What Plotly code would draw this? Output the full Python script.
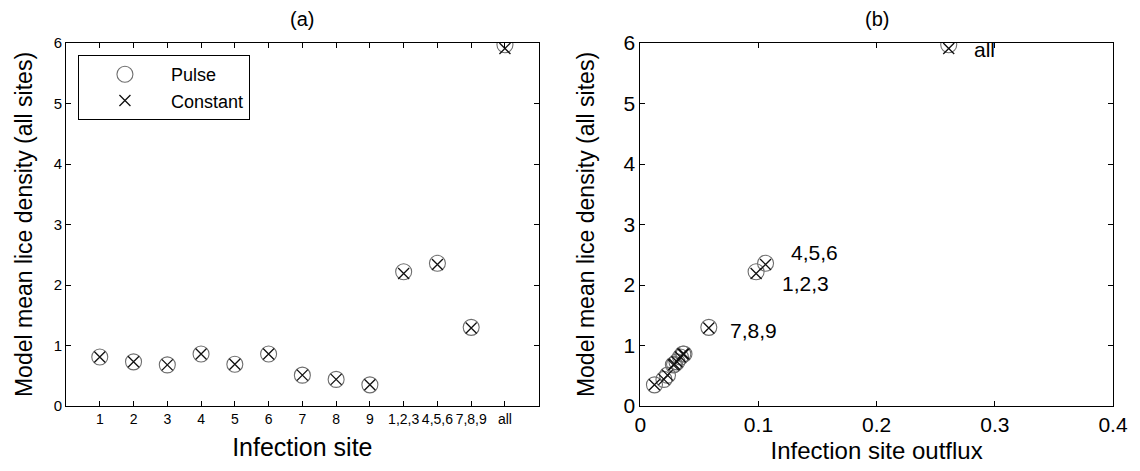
import plotly.graph_objects as go
from plotly.subplots import make_subplots

# ---- data ----
sites = ['1', '2', '3', '4', '5', '6', '7', '8', '9', '1,2,3', '4,5,6', '7,8,9', 'all']
pulse = [0.81, 0.73, 0.68, 0.86, 0.69, 0.86, 0.51, 0.44, 0.35, 2.22, 2.36, 1.30, 5.97]
constant = [0.81, 0.73, 0.68, 0.86, 0.69, 0.86, 0.51, 0.44, 0.35, 2.19, 2.34, 1.29, 5.91]
outflux = [0.034, 0.031, 0.028, 0.036, 0.029, 0.037, 0.023, 0.020, 0.012, 0.098, 0.106, 0.058, 0.261]
labelled_sites = ['4,5,6', '1,2,3', '7,8,9', 'all']
label_pos = {'4,5,6': (0.126, 2.53), '1,2,3': (0.118, 2.03), '7,8,9': (0.074, 1.25), 'all': (0.281, 5.89)}

xpos = list(range(1, len(sites) + 1))
FONT = "Liberation Sans, Arial, sans-serif"

fig = make_subplots(rows=1, cols=2, horizontal_spacing=0.097)

circle = dict(symbol='circle-open', size=16, color='#6e6e6e', line=dict(width=1.1, color='#6e6e6e'))
cross = dict(symbol='x-thin-open', size=11, color='#111111', line=dict(width=1.3, color='#111111'))

fig.add_trace(go.Scatter(x=xpos, y=pulse, mode='markers', name='Pulse', marker=circle,
                         showlegend=True), row=1, col=1)
fig.add_trace(go.Scatter(x=xpos, y=constant, mode='markers', name='Constant', marker=cross,
                         showlegend=True), row=1, col=1)
fig.add_trace(go.Scatter(x=outflux, y=pulse, mode='markers', marker=circle, showlegend=False),
              row=1, col=2)
fig.add_trace(go.Scatter(x=outflux, y=constant, mode='markers', marker=cross, showlegend=False),
              row=1, col=2)

for s in labelled_sites:
    lx, ly = label_pos[s]
    fig.add_annotation(x=lx, y=ly, xref='x2', yref='y2', text=s, showarrow=False,
                       xanchor='left', yanchor='middle', font=dict(size=21, color='black', family=FONT))

axis_common = dict(showline=True, linecolor='black', linewidth=1, mirror='ticks', ticks='inside',
                   ticklen=5, tickcolor='black', showgrid=False, zeroline=False)

fig.update_xaxes(**axis_common, range=[0, 14], tickmode='array', tickvals=xpos, ticktext=sites,
                 tickfont=dict(size=14, family=FONT, color='black'),
                 title=dict(text='Infection site', font=dict(size=25, family=FONT, color='black'), standoff=12),
                 row=1, col=1)
fig.update_yaxes(**axis_common, range=[0, 6], dtick=1,
                 tickfont=dict(size=15, family=FONT, color='black'),
                 title=dict(text='Model mean lice density (all sites)', font=dict(size=23, family=FONT, color='black'), standoff=14),
                 row=1, col=1)
fig.update_xaxes(**axis_common, range=[0, 0.4], dtick=0.1, tickformat='.1~f',
                 tickfont=dict(size=21, family=FONT, color='black'),
                 title=dict(text='Infection site outflux', font=dict(size=24, family=FONT, color='black'), standoff=6),
                 row=1, col=2)
fig.update_yaxes(**axis_common, range=[0, 6], dtick=1,
                 tickfont=dict(size=21, family=FONT, color='black'),
                 title=dict(text='Model mean lice density (all sites)', font=dict(size=23, family=FONT, color='black'), standoff=22),
                 row=1, col=2)

fig.add_annotation(x=0.5, y=1.0, xref='x domain', yref='paper', text='(a)', showarrow=False,
                   yanchor='bottom', yshift=11, font=dict(size=20, family=FONT, color='black'))
fig.add_annotation(x=0.5, y=1.0, xref='x2 domain', yref='paper', text='(b)', showarrow=False,
                   yanchor='bottom', yshift=11, font=dict(size=20, family=FONT, color='black'))

fig.update_layout(
    width=1140, height=471,
    margin=dict(l=66, r=22, t=43, b=65),
    paper_bgcolor='white', plot_bgcolor='white',
    font=dict(family=FONT, color='black'),
    legend=dict(x=0.0114, y=0.967, xanchor='left', yanchor='top',
                bordercolor='black', borderwidth=1, bgcolor='white',
                font=dict(size=18, family=FONT, color='black'),
                itemwidth=82, tracegroupgap=0),
)

fig.write_html("out.html", config={'displayModeBar': False},
               post_script="document.body.style.margin='0px';")
